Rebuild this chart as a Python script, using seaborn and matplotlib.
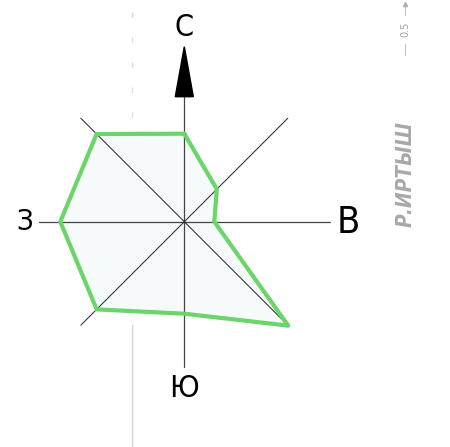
import numpy as np
import pandas as pd
import matplotlib
matplotlib.use('Agg')
import matplotlib.pyplot as plt
import seaborn as sns

# Wind rose data (repeatability by direction, drawn in px-like units)
directions = ['С', 'СВ', 'В', 'ЮВ', 'Ю', 'ЮЗ', 'З', 'СЗ']
angles_deg = [0, 45, 90, 135, 180, 225, 270, 315]
values = [88, 46, 30, 147, 92, 124, 124, 124]

sns.set_theme(style='white')
plt.rcParams['font.family'] = ['DejaVu Sans']

fig = plt.figure(figsize=(4.5, 4.47), dpi=100)
ax = fig.add_axes([0, 0, 1, 1])
ax.set_xlim(-184.3, 265.7)
ax.set_ylim(-225.3, 221.7)
ax.set_aspect('equal')
ax.axis('off')

th = np.radians(angles_deg)
rose = pd.DataFrame({
    'x': np.array(values) * np.sin(th),
    'y': np.array(values) * np.cos(th),
})
closed = pd.concat([rose, rose.iloc[:1]], ignore_index=True)

ax.fill(rose['x'], rose['y'], color='#f6fafa', zorder=1)

# axes of the rose
ax.plot([-145, 146], [0, 0], color='#444444', lw=0.9, zorder=2)
ax.plot([0, 0], [-145, 125], color='#444444', lw=0.9, zorder=2)
d = 103.5
ax.plot([-d, d], [-d, d], color='#222222', lw=0.7, zorder=2)
ax.plot([-d, d], [d, -d], color='#222222', lw=0.7, zorder=2)
ax.fill([-9, 9, 0], [125, 125, 175], color='black', zorder=3)

sns.lineplot(data=closed, x='x', y='y', sort=False, estimator=None, ax=ax,
             color='#6ad66a', lw=3.0, zorder=4, solid_joinstyle='round')

# direction labels (condensed face)
lab = dict(ha='center', va='center', color='black', fontstretch='condensed',
           family=['DejaVu Sans'])
ax.text(0, 194, 'С', fontsize=22, **lab)
ax.text(-159.8, 0, 'З', fontsize=21, **lab)
ax.text(164.2, -1.5, 'В', fontsize=27, **lab)
ax.text(0, -167, 'Ю', fontsize=22, **lab)

# faint scan line on the left
ax.plot([-52.6, -52.6], [210, 102], color='#dddddd', lw=1.0, ls=(0, (4, 14)), zorder=0)
ax.plot([-52.6, -52.6], [-103, -226], color='#d6d6d6', lw=1.0, zorder=0)

# river name and scale mark
ax.text(221.7, 48, 'Р.ИРТЫШ', fontsize=15, rotation=90, ha='center', va='center',
        color='#a8a8a8', fontweight='bold', fontstyle='italic',
        fontstretch='condensed')
ax.plot([220.7, 220.7], [167, 220], color='#b0b0b0', lw=0.6)
ax.plot([220.7], [218], marker='^', ms=3, color='#b0b0b0')
ax.text(220.7, 192, '0.5', fontsize=7, rotation=90, ha='center', va='center',
        color='#a0a0a0', backgroundcolor='white')

fig.savefig('out.png', dpi=100, facecolor='white')
